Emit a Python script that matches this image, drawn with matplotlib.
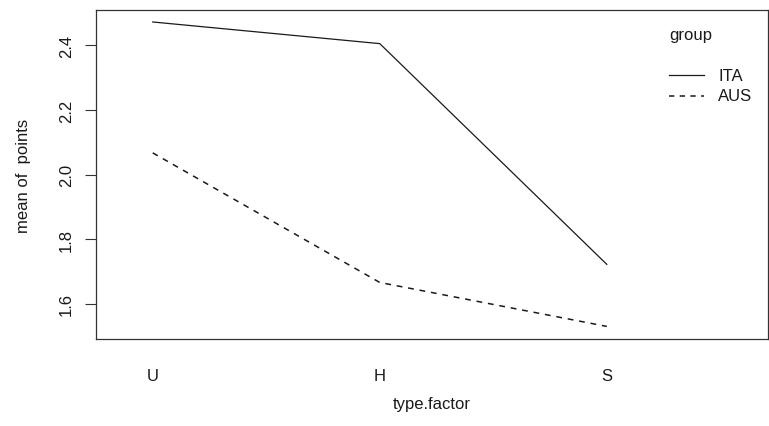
import matplotlib

matplotlib.use("Agg")
import matplotlib.pyplot as plt

# interaction plot: mean of points by type.factor and group
types = ["U", "H", "S"]
groups = ["ITA", "AUS"]
ita_means = [2.472, 2.405, 1.722]
aus_means = [2.067, 1.666, 1.530]
yticks = [1.6, 1.8, 2.0, 2.2, 2.4]

plt.rcParams["font.family"] = ["Liberation Sans", "DejaVu Sans"]
plt.rcParams["font.size"] = 12
ink = "#1a1a1a"

fig = plt.figure(figsize=(7.69, 4.27), dpi=100)
ax = fig.add_axes([0.1248, 0.2037, 0.8739, 0.7705])

xpos = list(range(1, len(types) + 1))
ax.plot(xpos, ita_means, color=ink, linewidth=0.9, label=groups[0])
ax.plot(xpos, aus_means, color=ink, linewidth=1.1, dashes=(3.8, 3.8), label=groups[1])

ax.set_xlim(0.75, 3.71)
ax.set_ylim(1.491, 2.509)
ax.set_xticks(xpos)
ax.set_xticklabels(types, color=ink)
ax.set_yticks(yticks)
ax.set_yticklabels([f"{v:.1f}" for v in yticks], rotation=90, va="center", color=ink)
ax.tick_params(axis="x", length=0, pad=21)
ax.tick_params(axis="y", length=8, width=0.8, color="#333333", pad=8)
for spine in ax.spines.values():
    spine.set_linewidth(0.9)
    spine.set_color("#333333")

ax.set_xlabel("type.factor", color=ink)
ax.xaxis.set_label_coords(0.5, -0.195)
ax.xaxis.label.set_va("center")
ax.set_ylabel("mean of  points", color=ink)
ax.yaxis.set_label_coords(-0.108, 0.5)
ax.yaxis.label.set_va("center")

# legend drawn R-style, no frame
ax.text(0.853, 0.925, "group", transform=ax.transAxes, va="center", ha="left", color=ink)
leg_y = [0.801, 0.739]
styles = [dict(linewidth=0.9), dict(linewidth=1.1, dashes=(3.5, 3.5))]
for name, y, st in zip(groups, leg_y, styles):
    ax.plot([0.853, 0.905], [y, y], transform=ax.transAxes, color=ink, **st)
    ax.text(0.926, y, name, transform=ax.transAxes, va="center", ha="left", color=ink)

fig.savefig("out.png", dpi=100)
